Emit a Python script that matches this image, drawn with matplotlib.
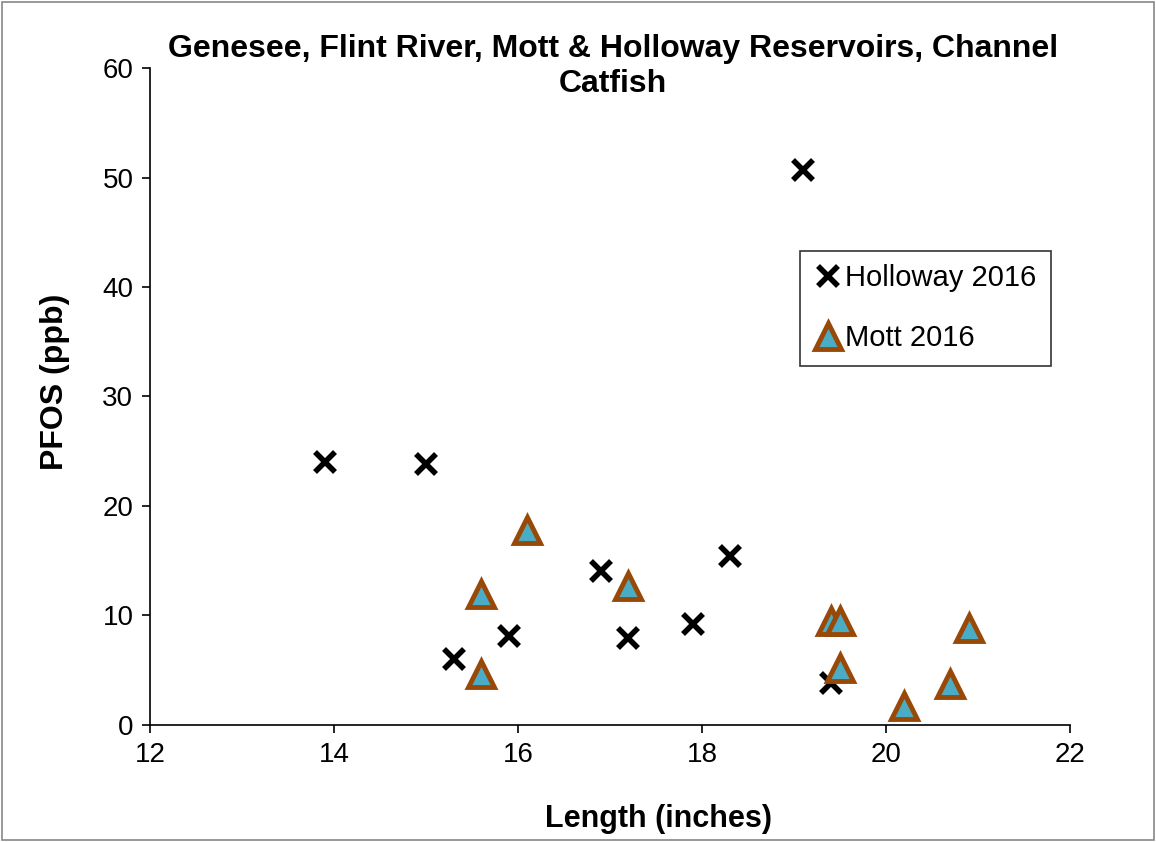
import matplotlib.pyplot as plt
from matplotlib.patches import Rectangle

plt.rcParams['font.family'] = ['Liberation Sans', 'DejaVu Sans']

holloway_len = [13.9, 15.0, 15.3, 15.9, 16.9, 17.2, 17.9, 18.3, 19.1, 19.4]
holloway_pfos = [24.0, 23.8, 6.0, 8.1, 14.1, 7.9, 9.2, 15.4, 50.7, 3.8]

mott_len = [15.6, 15.6, 16.1, 17.2, 19.4, 19.5, 19.5, 20.2, 20.7, 20.9]
mott_pfos = [12.0, 4.7, 17.8, 12.7, 9.5, 9.5, 5.2, 1.7, 3.7, 8.9]

fig = plt.figure(figsize=(11.56, 8.42), dpi=100)
ax = fig.add_axes([0.1298, 0.139, 0.7958, 0.7802])

ax.plot(holloway_len, holloway_pfos, linestyle='none', marker='x', markersize=15,
        mew=4, color='black', label='Holloway 2016', zorder=3)
ax.plot(mott_len, mott_pfos, linestyle='none', marker='^', markersize=19,
        mew=3.5, markerfacecolor='#4BACC6', markeredgecolor='#984807',
        label='Mott 2016', zorder=3)

ax.set_xlim(12, 22)
ax.set_ylim(0, 60)
ax.set_xticks(range(12, 23, 2))
ax.set_yticks(range(0, 61, 10))
ax.tick_params(labelsize=20, length=6, width=1.2, direction='out', pad=6)
for s in ['top', 'right']:
    ax.spines[s].set_visible(False)
for s in ['left', 'bottom']:
    ax.spines[s].set_linewidth(1.2)

ax.set_xlabel('Length (inches)', fontsize=22, fontweight='bold')
ax.set_ylabel('PFOS (ppb)', fontsize=23, fontweight='bold')
ax.xaxis.set_label_coords(0.553, -0.12)
ax.yaxis.set_label_coords(-0.087, 0.522)
fig.text(0.530, 0.921, 'Genesee, Flint River, Mott & Holloway Reservoirs, Channel\nCatfish',
         ha='center', va='center', fontsize=23, fontweight='bold', linespacing=1.2)

leg = ax.legend(loc='lower left', bbox_to_anchor=(0.7065, 0.547, 0.273, 0.183),
                mode='expand', fontsize=21, frameon=True, fancybox=False,
                handletextpad=0.1, handlelength=1.0, labelspacing=1.1,
                borderpad=0.45, borderaxespad=0)
leg.get_frame().set_edgecolor('black')
leg.get_frame().set_linewidth(1.2)

fig.patches.append(Rectangle((0.002, 0.002), 0.996, 0.996, transform=fig.transFigure,
                             fill=False, edgecolor='#888888', linewidth=1.2))

fig.savefig('out.png', dpi=100)
